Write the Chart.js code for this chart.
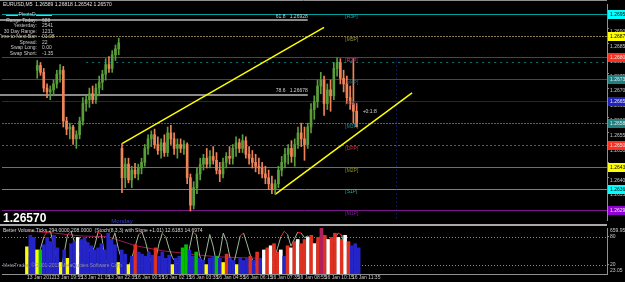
<!DOCTYPE html>
<html>
<head>
<meta charset="utf-8">
<script src="https://cdn.jsdelivr.net/npm/chart.js@4.4.1/dist/chart.umd.min.js"></script>
<style>
  html, body { margin: 0; padding: 0; background: #000; }
  #wrap { position: relative; width: 625px; height: 282px; background: #000; overflow: hidden; }
  #priceChart { position: absolute; left: 0; top: 0; }
  #volChart { position: absolute; left: 0; top: 224px; }
</style>
</head>
<body>
<div id="wrap">
  <canvas id="priceChart" width="625" height="224"></canvas>
  <canvas id="volChart" width="625" height="58"></canvas>
</div>
<script>
const FONT = '"Liberation Sans", Arial, sans-serif';
Chart.defaults.font.family = FONT;

// time axis: bar index of each label
const timeTickIdx = [0, 8, 16, 24, 32, 40, 48, 56, 64, 72, 80, 88, 96];
const timeLabels = ['13 Jan 2012', '13 Jan 19:55', '13 Jan 21:15', '13 Jan 22:35', '16 Jan 00:55', '16 Jan 02:15',
    '16 Jan 03:35', '16 Jan 04:55', '16 Jan 06:15', '16 Jan 07:35', '16 Jan 08:55', '16 Jan 10:15', '16 Jan 11:35'];

// EURUSD M5 candles
const opens = [
    1.26760, 1.26776, 1.26753, 1.26700, 1.26687, 1.26694, 1.26714, 1.26747, 1.26760, 1.26589,
    1.26562, 1.26569, 1.26529, 1.26543, 1.26589, 1.26648, 1.26661, 1.26681, 1.26661, 1.26700,
    1.26720, 1.26747, 1.26779, 1.26766, 1.26812, 1.26832, 1.26497, 1.26398, 1.26444, 1.26391,
    1.26424, 1.26411, 1.26431, 1.26450, 1.26497, 1.26529, 1.26543, 1.26510, 1.26490, 1.26516,
    1.26483, 1.26549, 1.26529, 1.26497, 1.26510, 1.26497, 1.26510, 1.26398, 1.26306, 1.26365,
    1.26411, 1.26444, 1.26464, 1.26444, 1.26470, 1.26457, 1.26424, 1.26411, 1.26450, 1.26470,
    1.26464, 1.26497, 1.26516, 1.26497, 1.26523, 1.26477, 1.26464, 1.26450, 1.26437, 1.26431,
    1.26411, 1.26398, 1.26378, 1.26358, 1.26378, 1.26424, 1.26450, 1.26477, 1.26497, 1.26470,
    1.26510, 1.26549, 1.26529, 1.26510, 1.26569, 1.26628, 1.26654, 1.26707, 1.26727, 1.26648,
    1.26694, 1.26674, 1.26766, 1.26786, 1.26733, 1.26714, 1.26668, 1.26648, 1.26622];
const highs = [
    1.26793, 1.26786, 1.26766, 1.26714, 1.26707, 1.26727, 1.26760, 1.26779, 1.26773, 1.26602,
    1.26582, 1.26575, 1.26556, 1.26602, 1.26668, 1.26674, 1.26700, 1.26707, 1.26714, 1.26740,
    1.26760, 1.26799, 1.26806, 1.26826, 1.26845, 1.26868, 1.26513, 1.26464, 1.26464, 1.26437,
    1.26447, 1.26444, 1.26464, 1.26510, 1.26543, 1.26556, 1.26562, 1.26536, 1.26529, 1.26543,
    1.26569, 1.26575, 1.26549, 1.26529, 1.26529, 1.26523, 1.26516, 1.26411, 1.26385, 1.26431,
    1.26464, 1.26477, 1.26497, 1.26490, 1.26503, 1.26483, 1.26450, 1.26464, 1.26483, 1.26503,
    1.26510, 1.26536, 1.26529, 1.26543, 1.26536, 1.26503, 1.26490, 1.26477, 1.26464, 1.26450,
    1.26437, 1.26424, 1.26404, 1.26391, 1.26437, 1.26470, 1.26497, 1.26510, 1.26523, 1.26529,
    1.26569, 1.26582, 1.26569, 1.26582, 1.26648, 1.26674, 1.26727, 1.26753, 1.26740, 1.26714,
    1.26727, 1.26786, 1.26802, 1.26799, 1.26760, 1.26740, 1.26707, 1.26799, 1.26648];
const lows = [
    1.26733, 1.26743, 1.26687, 1.26668, 1.26661, 1.26674, 1.26700, 1.26720, 1.26569, 1.26543,
    1.26529, 1.26510, 1.26497, 1.26529, 1.26575, 1.26622, 1.26635, 1.26648, 1.26648, 1.26674,
    1.26694, 1.26727, 1.26753, 1.26753, 1.26793, 1.26812, 1.26348, 1.26365, 1.26381, 1.26365,
    1.26398, 1.26391, 1.26411, 1.26437, 1.26477, 1.26503, 1.26497, 1.26477, 1.26464, 1.26470,
    1.26470, 1.26510, 1.26477, 1.26464, 1.26483, 1.26477, 1.26378, 1.26286, 1.26293, 1.26345,
    1.26391, 1.26424, 1.26431, 1.26431, 1.26444, 1.26411, 1.26385, 1.26398, 1.26431, 1.26444,
    1.26444, 1.26470, 1.26483, 1.26483, 1.26464, 1.26444, 1.26431, 1.26418, 1.26411, 1.26398,
    1.26378, 1.26358, 1.26345, 1.26342, 1.26365, 1.26404, 1.26431, 1.26444, 1.26450, 1.26437,
    1.26497, 1.26503, 1.26457, 1.26497, 1.26549, 1.26595, 1.26635, 1.26681, 1.26608, 1.26628,
    1.26622, 1.26661, 1.26740, 1.26714, 1.26687, 1.26648, 1.26628, 1.26582, 1.26569];
const closes = [
    1.26776, 1.26753, 1.26700, 1.26687, 1.26694, 1.26714, 1.26747, 1.26760, 1.26589, 1.26562,
    1.26569, 1.26529, 1.26543, 1.26589, 1.26648, 1.26661, 1.26681, 1.26661, 1.26700, 1.26720,
    1.26747, 1.26779, 1.26766, 1.26812, 1.26832, 1.26852, 1.26398, 1.26444, 1.26391, 1.26424,
    1.26411, 1.26431, 1.26450, 1.26497, 1.26529, 1.26543, 1.26510, 1.26490, 1.26516, 1.26483,
    1.26549, 1.26529, 1.26497, 1.26510, 1.26497, 1.26510, 1.26398, 1.26306, 1.26365, 1.26411,
    1.26444, 1.26464, 1.26444, 1.26470, 1.26457, 1.26424, 1.26411, 1.26450, 1.26470, 1.26464,
    1.26497, 1.26516, 1.26497, 1.26523, 1.26477, 1.26464, 1.26450, 1.26437, 1.26431, 1.26411,
    1.26398, 1.26378, 1.26358, 1.26378, 1.26424, 1.26450, 1.26477, 1.26497, 1.26470, 1.26510,
    1.26549, 1.26529, 1.26510, 1.26569, 1.26628, 1.26654, 1.26707, 1.26727, 1.26648, 1.26694,
    1.26674, 1.26766, 1.26786, 1.26733, 1.26714, 1.26668, 1.26648, 1.26622, 1.26570];

// PivotsD levels, top to bottom
const pivotNames = ['[R3P]', '[M5P]', '[R2P]', '[M4P]', '[R1P]', '[M3P]', '[DPP]', '[M2P]', '[S1P]', '[M1P]'];
const pivotLevels = [1.26951, 1.26875, 1.26803, 1.26731, 1.26658, 1.26583, 1.26507, 1.26435, 1.26362, 1.26290];
const fibNames = ['61.8', '78.6'];
const fibPrices = [1.26928, 1.26678];
const fibEndIdx = 83;
const trendUpper = [[26, 1.26513], [88, 1.26904]];
const trendLower = [[73, 1.26342], [115, 1.26684]];
const dashLevel = 1.26789;
const dashFromIdx = 15;
const sessionLineIdx = 110;
const currentPrice = 1.26570;

// Better Volume + Stoch window
const volumes = [
    390, 555, 525, 345, 345, 420, 525, 465, 555, 375,
    165, 345, 225, 435, 465, 525, 495, 525, 450, 405,
    345, 375, 435, 345, 585, 495, 420, 165, 345, 285,
    135, 255, 420, 315, 285, 255, 315, 270, 375, 255,
    315, 225, 270, 135, 225, 255, 375, 420, 345, 255,
    315, 225, 195, 135, 225, 255, 255, 225, 165, 285,
    225, 195, 135, 225, 195, 225, 255, 195, 315, 225,
    345, 375, 405, 435, 315, 345, 255, 405, 375, 465,
    495, 435, 495, 525, 555, 435, 525, 655, 555, 495,
    525, 585, 525, 495, 555, 465, 405, 435, 375];
const volClass = [
    'low', 'normal', 'normal', 'low', 'churn', 'normal', 'normal', 'normal', 'normal', 'normal',
    'low', 'normal', 'low', 'normal', 'normal', 'climaxDn', 'normal', 'normal', 'normal', 'normal',
    'normal', 'normal', 'normal', 'normal', 'normal', 'normal', 'normal', 'low', 'normal', 'normal',
    'low', 'normal', 'climaxUp', 'normal', 'normal', 'normal', 'normal', 'normal', 'climaxUp', 'normal',
    'normal', 'normal', 'normal', 'low', 'normal', 'normal', 'churn', 'churn', 'normal', 'normal',
    'churn', 'normal', 'normal', 'low', 'normal', 'normal', 'churn', 'normal', 'low', 'climaxUp',
    'normal', 'normal', 'low', 'normal', 'normal', 'normal', 'climaxUp', 'normal', 'climaxUp', 'normal',
    'climaxDn', 'climaxUp', 'climaxDn', 'climaxUp', 'climaxUp', 'climaxDn', 'normal', 'climaxUp', 'climaxDn', 'climaxUp',
    'climaxDn', 'climaxUp', 'climaxUp', 'climaxDn', 'climaxUp', 'climaxDn', 'climaxUp', 'churnClimax', 'climaxUp', 'climaxDn',
    'climaxUp', 'climaxUp', 'climaxDn', 'climaxUp', 'climaxDn', 'climaxUp', 'normal', 'normal', 'normal'];
const stoch = [
    55, 30, 12, 25, 55, 80, 92, 90, 60, 25,
    10, 45, 85, 92, 70, 35, 50, 76, 60, 42,
    60, 90, 85, 35, 20, 70, 88, 55, 30, 18,
    15, 35, 60, 85, 90, 70, 40, 22, 30, 65,
    88, 80, 55, 35, 25, 20, 12, 15, 55, 90,
    85, 40, 20, 50, 85, 60, 22, 45, 88, 70,
    35, 20, 50, 82, 88, 65, 40, 25, 15, 20,
    35, 25, 18, 30, 55, 80, 92, 85, 60, 75,
    90, 88, 78, 82, 70, 60, 72, 85, 80, 68,
    65, 78, 88, 84, 55, 33, 20, 15, 13];
const slowIdx = [0, 8, 16, 24, 32, 40, 48, 56, 64, 72, 80, 88, 96, 98];
const slowVals = [93, 88, 82, 80, 61, 50, 43, 37, 35, 33, 30, 28, 28, 28];
const stochLevels = [80, 20];
const volScaleLabels = [659.95, 23.05];

const infoRows = [['Range Today:', '688'], ['Yesterday:', '2541'], ['30 Day Range:', '1231'],
    ['Time to Next Bar:', '01:08'], ['Spread:', '22'], ['Swap Long:', '0.00'], ['Swap Short:', '-1.35']];

// styles
const bullColor = '#5a9e3c';
const bearColor = '#f08458';
const pivotLineColors = ['#00a0a0', '#8b7d50', '#8b2060', '#2f4f5f', '#1c1c90', '#207a7a', '#a03060', '#7a7a10', '#20a8a0', '#7a1a8a'];
const pivotDash = [[], [2, 1], [], [], [], [2, 1], [2, 2], [], [], []];
const pivotBoxColors = ['#00ffff', '#ffff00', '#ff3020', '#1e8080', '#2020c0', '#1e8080', '#ff3020', '#ffff00', '#00ffff', '#9000d0'];
const pivotLabelColors = ['#20a0a0', '#909040', '#c04080', '#406060', '#3030d0', '#209090', '#c03040', '#909020', '#20b0a8', '#8020a0'];
const volColors = { normal: '#2424c8', low: '#ffff00', churn: '#00c000', climaxUp: '#e03020', climaxDn: '#ffffff', churnClimax: '#b0205a' };

const up = closes.map((c, i) => c >= opens[i]);
const candleColors = up.map(u => u ? bullColor : bearColor);

const priceOverlay = {
    id: 'priceOverlay',
    beforeDatasetsDraw(chart) {
        const { ctx, chartArea: a, scales: { x, y } } = chart;
        ctx.save();
        ctx.lineWidth = 1;
        pivotLevels.forEach((p, i) => {
            const py = Math.round(y.getPixelForValue(p)) + 0.5;
            ctx.strokeStyle = pivotLineColors[i];
            ctx.setLineDash(pivotDash[i]);
            ctx.beginPath(); ctx.moveTo(a.left, py); ctx.lineTo(a.right, py); ctx.stroke();
        });
        // dashed teal level
        ctx.strokeStyle = '#0a7070';
        ctx.setLineDash([2, 4]);
        let py = Math.round(y.getPixelForValue(dashLevel)) + 0.5;
        ctx.beginPath(); ctx.moveTo(x.getPixelForValue(dashFromIdx), py); ctx.lineTo(a.right, py); ctx.stroke();
        // session vertical
        ctx.strokeStyle = '#2828a8';
        ctx.setLineDash([1, 3]);
        const vx = Math.round(x.getPixelForValue(sessionLineIdx)) + 0.5;
        ctx.beginPath(); ctx.moveTo(vx, y.getPixelForValue(pivotLevels[2])); ctx.lineTo(vx, a.bottom); ctx.stroke();
        // fibo lines
        ctx.setLineDash([]);
        ctx.strokeStyle = '#8a8a8a';
        ctx.lineWidth = 2;
        fibPrices.forEach(p => {
            const fy = Math.round(y.getPixelForValue(p));
            ctx.beginPath(); ctx.moveTo(a.left - 2, fy); ctx.lineTo(x.getPixelForValue(fibEndIdx), fy); ctx.stroke();
        });
        ctx.restore();
    },
    afterDatasetsDraw(chart) {
        const { ctx, scales: { x, y } } = chart;
        ctx.save();
        ctx.font = '5px ' + FONT;
        ctx.textBaseline = 'bottom';
        ctx.textAlign = 'right';
        ctx.fillStyle = '#d0d0d0';
        fibPrices.forEach((p, i) => {
            ctx.fillText(fibNames[i] + '   ' + p.toFixed(5), x.getPixelForValue(fibEndIdx), y.getPixelForValue(p) - 1);
        });
        ctx.textAlign = 'left';
        ctx.textBaseline = 'top';
        const lx = x.getPixelForValue(94.5);
        pivotLevels.forEach((p, i) => {
            ctx.fillStyle = pivotLabelColors[i];
            ctx.fillText(pivotNames[i], lx, y.getPixelForValue(p) + 1);
        });
        const last = closes.length - 1;
        ctx.fillStyle = '#d0d0d0';
        ctx.textBaseline = 'middle';
        ctx.fillText('+0:1:8', x.getPixelForValue(last) + 6, y.getPixelForValue(closes[last]) - 15);
        ctx.fillStyle = '#3a3ad0';
        ctx.textAlign = 'center';
        ctx.font = '6px ' + FONT;
        ctx.fillText('Monday', x.getPixelForValue(26), 221);
        ctx.restore();
    },
    afterDraw(chart) {
        const { ctx, scales: { y } } = chart;
        ctx.save();
        // price boxes on the right axis
        ctx.font = '5px ' + FONT;
        ctx.textBaseline = 'middle';
        ctx.textAlign = 'left';
        pivotLevels.forEach((p, i) => {
            const py = Math.round(y.getPixelForValue(p));
            ctx.fillStyle = pivotBoxColors[i];
            ctx.fillRect(608, py - 4, 17, 9);
            const bright = ['#00ffff', '#ffff00'].includes(pivotBoxColors[i]);
            ctx.fillStyle = bright ? '#000000' : '#e8e8e8';
            ctx.fillText(p.toFixed(5), 610, py + 0.5);
        });
        // frame
        ctx.strokeStyle = '#909090';
        ctx.lineWidth = 1;
        ctx.beginPath(); ctx.moveTo(0, 0.5); ctx.lineTo(607, 0.5); ctx.stroke();
        // title and info panel
        ctx.fillStyle = '#e0e0e0';
        ctx.textAlign = 'left';
        ctx.fillText('EURUSD,M5  1.26589 1.26818 1.26542 1.26570', 3, 5);
        ctx.fillStyle = '#c8c8c8';
        ctx.textAlign = 'center';
        ctx.fillText('PivotsD', 27, 15);
        ctx.strokeStyle = '#b0b0b0';
        ctx.beginPath(); ctx.moveTo(6, 15.5); ctx.lineTo(18, 15.5); ctx.moveTo(36, 15.5); ctx.lineTo(52, 15.5); ctx.stroke();
        infoRows.forEach((r, i) => {
            const ry = 20.5 + i * 5.5;
            ctx.textAlign = 'right';
            ctx.fillText(r[0], 37, ry);
            ctx.textAlign = 'left';
            ctx.fillText(r[1], 42, ry);
        });
        // current price
        ctx.font = 'bold 12px ' + FONT;
        ctx.fillStyle = '#ffffff';
        ctx.textBaseline = 'alphabetic';
        ctx.fillText(currentPrice.toFixed(5), 3, 222);
        ctx.restore();
    }
};

new Chart(document.getElementById('priceChart'), {
    type: 'bar',
    data: {
        datasets: [
            {
                data: highs.map((h, i) => ({ x: i, y: [lows[i], h] })),
                backgroundColor: candleColors, barThickness: 1, grouped: false, borderWidth: 0
            },
            {
                data: opens.map((o, i) => ({ x: i, y: [o, closes[i]] })),
                backgroundColor: candleColors, barThickness: 2, grouped: false, borderWidth: 0
            },
            {
                type: 'line', data: trendUpper.map(([x, y]) => ({ x, y })),
                borderColor: '#ffff00', borderWidth: 1.5, pointRadius: 0
            },
            {
                type: 'line', data: trendLower.map(([x, y]) => ({ x, y })),
                borderColor: '#ffff00', borderWidth: 1.5, pointRadius: 0
            }
        ]
    },
    options: {
        responsive: false,
        devicePixelRatio: 1,
        animation: false,
        events: [],
        layout: { padding: { left: 2, top: 2, right: 0, bottom: 1 } },
        plugins: { legend: { display: false }, tooltip: { enabled: false } },
        scales: {
            x: { type: 'linear', min: -0.5, max: 164.5, display: false },
            y: {
                position: 'right', min: 1.26256, max: 1.26983,
                afterFit: s => { s.width = 18; },
                grid: { drawOnChartArea: false, color: '#909090', tickLength: 2 },
                border: { color: '#909090' },
                ticks: {
                    stepSize: 0.0005, includeBounds: false, color: '#c8c8c8', font: { size: 5 },
                    padding: 1, labelOffset: 3, callback: v => v.toFixed(5)
                }
            }
        }
    },
    plugins: [priceOverlay]
});

const volOverlay = {
    id: 'volOverlay',
    beforeDatasetsDraw(chart) {
        const { ctx, chartArea: a, scales: { ys } } = chart;
        ctx.save();
        ctx.strokeStyle = '#8a8a8a';
        ctx.setLineDash([1, 2]);
        ctx.lineWidth = 1;
        stochLevels.forEach(v => {
            const py = Math.round(ys.getPixelForValue(v)) + 0.5;
            ctx.beginPath(); ctx.moveTo(a.left, py); ctx.lineTo(a.right, py); ctx.stroke();
        });
        ctx.restore();
    },
    afterDraw(chart) {
        const { ctx, scales: { yv } } = chart;
        ctx.save();
        ctx.fillStyle = '#a8a8a8';
        ctx.fillRect(0, 0, 607, 2);
        ctx.font = '5px ' + FONT;
        ctx.fillStyle = '#c8c8c8';
        ctx.textAlign = 'left';
        ctx.textBaseline = 'top';
        ctx.fillText(volScaleLabels[0].toFixed(2), 610, yv.getPixelForValue(volScaleLabels[0]));
        ctx.textBaseline = 'bottom';
        ctx.fillText(volScaleLabels[1].toFixed(2), 610, yv.getPixelForValue(volScaleLabels[1]) + 1);
        ctx.textBaseline = 'middle';
        ctx.fillStyle = '#d8d8d8';
        ctx.fillText('Better Volume Ticks 294.0000 208.0000  (Stoch(8,3,3) with Slope +1.01) 12.6183 14.6974', 3, 6.5);
        ctx.fillStyle = '#9090a0';
        ctx.fillText('MetaTrader, \u00a9 2001-2011 MetaQuotes Software Corp.', 3, 42);
        ctx.restore();
    }
};

new Chart(document.getElementById('volChart'), {
    type: 'bar',
    data: {
        datasets: [
            {
                data: volumes.map((v, i) => ({ x: i, y: v })), yAxisID: 'yv',
                backgroundColor: volClass.map(c => volColors[c]), barThickness: 3, grouped: false, borderWidth: 0
            },
            {
                type: 'line', data: stoch.map((v, i) => ({ x: i, y: v })), yAxisID: 'ys',
                borderColor: '#a0b898', borderWidth: 1, pointRadius: 0,
                segment: {
                    borderColor: c => ((c.p0.parsed.y >= 80 && c.p1.parsed.y >= 80) || (c.p0.parsed.y <= 20 && c.p1.parsed.y <= 20)) ? '#ff2020' : '#a0b898'
                }
            },
            {
                type: 'line', data: slowIdx.map((x, i) => ({ x, y: slowVals[i] })), yAxisID: 'ys',
                borderColor: '#a01850', borderWidth: 1, pointRadius: 0
            }
        ]
    },
    options: {
        responsive: false,
        devicePixelRatio: 1,
        animation: false,
        events: [],
        layout: { padding: { left: 2, top: 2, right: 0, bottom: 0 } },
        plugins: { legend: { display: false }, tooltip: { enabled: false } },
        scales: {
            x: {
                type: 'linear', min: -0.5, max: 164.5, position: 'bottom',
                afterFit: s => { s.height = 8; },
                afterBuildTicks: s => { s.ticks = timeTickIdx.map(v => ({ value: v })); },
                grid: { drawOnChartArea: false, color: '#909090', tickLength: 1 },
                border: { color: '#909090' },
                ticks: {
                    align: 'start', color: '#c8c8c8', font: { size: 5 }, padding: 0, maxRotation: 0, autoSkip: false,
                    callback: v => timeLabels[timeTickIdx.indexOf(v)]
                }
            },
            yv: { position: 'right', min: 0, max: 660, display: false },
            ys: {
                position: 'right', min: 0, max: 99,
                afterFit: s => { s.width = 18; },
                afterBuildTicks: s => { s.ticks = stochLevels.map(v => ({ value: v })); },
                grid: { drawOnChartArea: false, color: '#909090', tickLength: 2 },
                border: { color: '#909090' },
                ticks: { color: '#c8c8c8', font: { size: 5 }, padding: 1 }
            }
        }
    },
    plugins: [volOverlay]
});
</script>
</body>
</html>
